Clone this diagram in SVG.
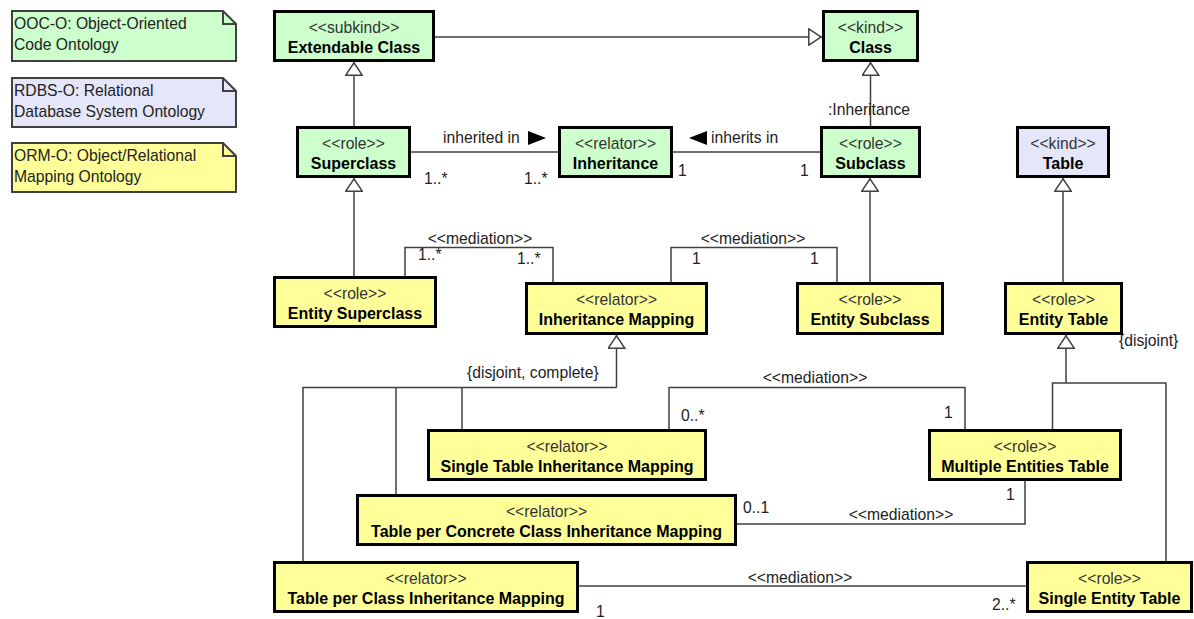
<svg xmlns="http://www.w3.org/2000/svg" width="1194" height="619" viewBox="0 0 1194 619">
  <defs>
    <style>
      text { font-family: "Liberation Sans", Arial, sans-serif; }
      .note { stroke: #404040; stroke-width: 2; }
      .fold { fill: none; stroke: #404040; stroke-width: 2; }
      .ntxt { font-size: 15.7px; fill: #222; }
      .box { stroke: #000; stroke-width: 3; }
      .ooc { fill: #ccffcc; }
      .rdbs { fill: #e6e6fa; }
      .orm { fill: #ffff99; }
      .st { font-size: 15.7px; fill: #333; text-anchor: middle; }
      .nm { font-size: 16px; font-weight: bold; fill: #000; text-anchor: middle; }
      .ln { fill: none; stroke: #404040; stroke-width: 1.5; }
      .gen { marker-end: url(#hollow); }
      .lbl { font-size: 15.7px; fill: #222; }
      .mid { text-anchor: middle; }
    </style>
    <marker id="hollow" viewBox="0 0 14 18" refX="14" refY="9" markerWidth="14" markerHeight="18" markerUnits="userSpaceOnUse" orient="auto">
      <path d="M0.8,0.8 L13.2,9 L0.8,17.2 Z" fill="#fff" stroke="#404040" stroke-width="1.5"/>
    </marker>
  </defs>

  <rect width="1194" height="619" fill="#fff"/>

  <!-- Legend notes -->
  <g id="note-ooc">
    <path class="note ooc" d="M12,11 H223 L236,24 V61 H12 Z"/>
    <path class="fold" d="M223,11 V24 H236"/>
    <text class="ntxt" x="14" y="29">OOC-O: Object-Oriented</text>
    <text class="ntxt" x="14" y="50">Code Ontology</text>
  </g>
  <g id="note-rdbs">
    <path class="note rdbs" d="M12,78 H223 L236,91 V127 H12 Z"/>
    <path class="fold" d="M223,78 V91 H236"/>
    <text class="ntxt" x="14" y="96">RDBS-O: Relational</text>
    <text class="ntxt" x="14" y="117">Database System Ontology</text>
  </g>
  <g id="note-orm">
    <path class="note orm" d="M12,143 H223 L236,156 V192 H12 Z"/>
    <path class="fold" d="M223,143 V156 H236"/>
    <text class="ntxt" x="14" y="161">ORM-O: Object/Relational</text>
    <text class="ntxt" x="14" y="182">Mapping Ontology</text>
  </g>

  <!-- Connectors -->
  <g id="connectors">
    <!-- generalizations -->
    <path class="ln gen" d="M354,126 V62"/>
    <path class="ln gen" d="M435,37 H822"/>
    <path class="ln gen" d="M870.5,126 V62"/>
    <path class="ln gen" d="M354,276 V178"/>
    <path class="ln gen" d="M870,282 V178"/>
    <path class="ln gen" d="M1063,282 V178"/>

    <!-- generalization set {disjoint, complete} -->
    <path class="ln" d="M303,561 V387.5 H616.5"/>
    <path class="ln" d="M396,494 V387.5"/>
    <path class="ln" d="M462,429 V387.5"/>
    <path class="ln gen" d="M616.5,387.5 V335"/>

    <!-- generalization set {disjoint} -->
    <path class="ln" d="M1052.5,429 V383 H1166 V561"/>
    <path class="ln gen" d="M1066,383 V335"/>

    <!-- associations -->
    <path class="ln" d="M411,152 H558"/>
    <path class="ln" d="M673,152 H820"/>

    <!-- mediations -->
    <path class="ln" d="M405,276 V247.5 H553 V282"/>
    <path class="ln" d="M671,282 V247.5 H837 V282"/>
    <path class="ln" d="M669,429 V387.5 H965 V429"/>
    <path class="ln" d="M737,524 H1025 V481"/>
    <path class="ln" d="M579,586 H1026"/>

    <!-- connector labels -->
    <text class="lbl" x="443" y="143">inherited in</text>
    <polygon points="528,131 546,138 528,145" fill="#000"/>
    <polygon points="707,131 689,138 707,145" fill="#000"/>
    <text class="lbl" x="711" y="143">inherits in</text>
    <text class="lbl" x="424" y="184">1..*</text>
    <text class="lbl" x="524" y="184">1..*</text>
    <text class="lbl" x="678" y="176">1</text>
    <text class="lbl" x="800" y="176">1</text>
    <text class="lbl" x="828" y="115">:Inheritance</text>

    <text class="lbl mid" x="480" y="244">&lt;&lt;mediation&gt;&gt;</text>
    <text class="lbl" x="418" y="260">1..*</text>
    <text class="lbl" x="517" y="264">1..*</text>

    <text class="lbl mid" x="753" y="244">&lt;&lt;mediation&gt;&gt;</text>
    <text class="lbl" x="692" y="264">1</text>
    <text class="lbl" x="810" y="264">1</text>

    <text class="lbl" x="467" y="378">{disjoint, complete}</text>
    <text class="lbl" x="1119" y="346">{disjoint}</text>

    <text class="lbl mid" x="815" y="383">&lt;&lt;mediation&gt;&gt;</text>
    <text class="lbl" x="681" y="421">0..*</text>
    <text class="lbl" x="944" y="418">1</text>

    <text class="lbl mid" x="901" y="520">&lt;&lt;mediation&gt;&gt;</text>
    <text class="lbl" x="743" y="513">0..1</text>
    <text class="lbl" x="1006" y="500">1</text>

    <text class="lbl mid" x="800" y="583">&lt;&lt;mediation&gt;&gt;</text>
    <text class="lbl" x="596" y="617">1</text>
    <text class="lbl" x="992" y="610">2..*</text>
  </g>

  <!-- Nodes -->
  <g id="extendable-class">
    <rect class="box ooc" x="274.5" y="11.5" width="159" height="49"/>
    <text class="st" x="354" y="32.5">&lt;&lt;subkind&gt;&gt;</text>
    <text class="nm" x="354" y="52.5">Extendable Class</text>
  </g>
  <g id="class">
    <rect class="box ooc" x="823.5" y="11.5" width="94" height="49"/>
    <text class="st" x="870.5" y="32.5">&lt;&lt;kind&gt;&gt;</text>
    <text class="nm" x="870.5" y="52.5">Class</text>
  </g>
  <g id="superclass">
    <rect class="box ooc" x="297.5" y="127.5" width="112" height="49"/>
    <text class="st" x="353.5" y="148.5">&lt;&lt;role&gt;&gt;</text>
    <text class="nm" x="353.5" y="168.5">Superclass</text>
  </g>
  <g id="inheritance">
    <rect class="box ooc" x="559.5" y="127.5" width="112" height="49"/>
    <text class="st" x="615.5" y="148.5">&lt;&lt;relator&gt;&gt;</text>
    <text class="nm" x="615.5" y="168.5">Inheritance</text>
  </g>
  <g id="subclass">
    <rect class="box ooc" x="821.5" y="127.5" width="98" height="49"/>
    <text class="st" x="870.5" y="148.5">&lt;&lt;role&gt;&gt;</text>
    <text class="nm" x="870.5" y="168.5">Subclass</text>
  </g>
  <g id="table">
    <rect class="box rdbs" x="1017.5" y="127.5" width="91" height="49"/>
    <text class="st" x="1063" y="148.5">&lt;&lt;kind&gt;&gt;</text>
    <text class="nm" x="1063" y="168.5">Table</text>
  </g>
  <g id="entity-superclass">
    <rect class="box orm" x="274.5" y="277.5" width="161" height="49"/>
    <text class="st" x="355" y="298.5">&lt;&lt;role&gt;&gt;</text>
    <text class="nm" x="355" y="318.5">Entity Superclass</text>
  </g>
  <g id="inheritance-mapping">
    <rect class="box orm" x="526.5" y="283.5" width="180" height="50"/>
    <text class="st" x="616.5" y="304.5">&lt;&lt;relator&gt;&gt;</text>
    <text class="nm" x="616.5" y="325">Inheritance Mapping</text>
  </g>
  <g id="entity-subclass">
    <rect class="box orm" x="797.5" y="283.5" width="145" height="50"/>
    <text class="st" x="870" y="304.5">&lt;&lt;role&gt;&gt;</text>
    <text class="nm" x="870" y="325">Entity Subclass</text>
  </g>
  <g id="entity-table">
    <rect class="box orm" x="1005.5" y="283.5" width="116" height="50"/>
    <text class="st" x="1063.5" y="304.5">&lt;&lt;role&gt;&gt;</text>
    <text class="nm" x="1063.5" y="325">Entity Table</text>
  </g>
  <g id="single-table-inheritance-mapping">
    <rect class="box orm" x="428.5" y="430.5" width="277" height="49"/>
    <text class="st" x="567" y="451.5">&lt;&lt;relator&gt;&gt;</text>
    <text class="nm" x="567" y="471.5">Single Table Inheritance Mapping</text>
  </g>
  <g id="multiple-entities-table">
    <rect class="box orm" x="929.5" y="430.5" width="191" height="49"/>
    <text class="st" x="1025" y="451.5">&lt;&lt;role&gt;&gt;</text>
    <text class="nm" x="1025" y="471.5">Multiple Entities Table</text>
  </g>
  <g id="table-per-concrete-class-inheritance-mapping">
    <rect class="box orm" x="357.5" y="495.5" width="378" height="49"/>
    <text class="st" x="546.5" y="516.5">&lt;&lt;relator&gt;&gt;</text>
    <text class="nm" x="546.5" y="536.5">Table per Concrete Class Inheritance Mapping</text>
  </g>
  <g id="table-per-class-inheritance-mapping">
    <rect class="box orm" x="274.5" y="562.5" width="303" height="49"/>
    <text class="st" x="426" y="583.5">&lt;&lt;relator&gt;&gt;</text>
    <text class="nm" x="426" y="603.5">Table per Class Inheritance Mapping</text>
  </g>
  <g id="single-entity-table">
    <rect class="box orm" x="1027.5" y="562.5" width="164" height="49"/>
    <text class="st" x="1109.5" y="583.5">&lt;&lt;role&gt;&gt;</text>
    <text class="nm" x="1109.5" y="603.5">Single Entity Table</text>
  </g>
</svg>
